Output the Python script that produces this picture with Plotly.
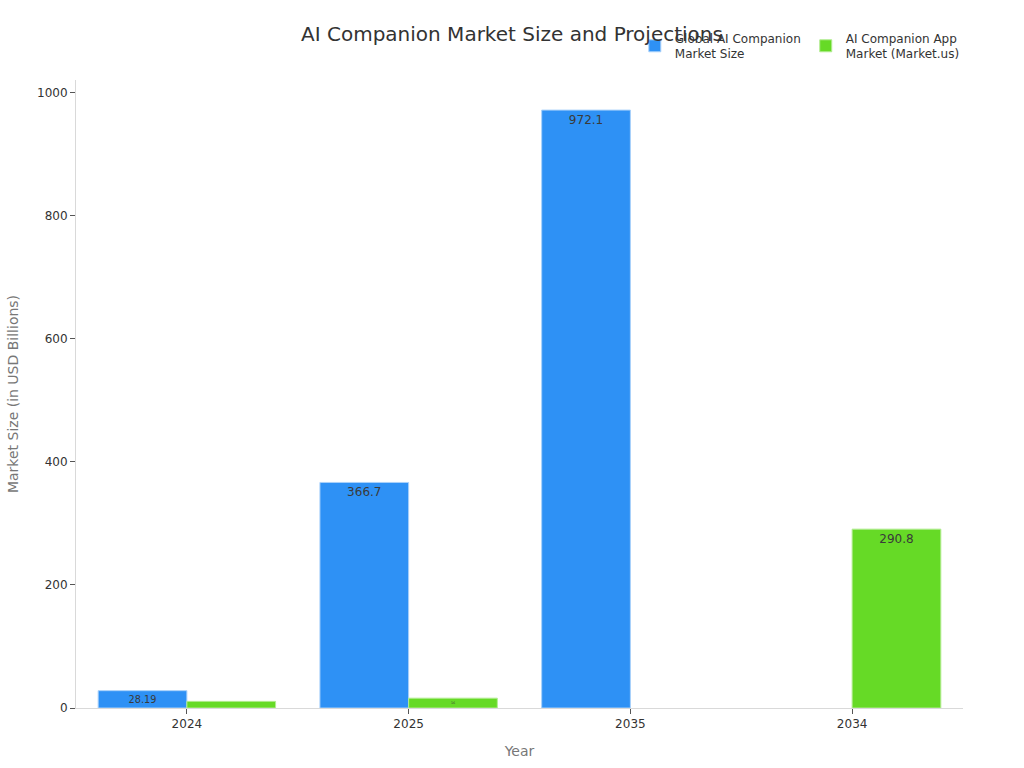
import plotly.graph_objects as go

years = ["2024", "2025", "2035", "2034"]
global_size = [28.19, 366.7, 972.1, None]
app_market = [10.8, 16.0, None, 290.8]
global_labels = ["28.19", "366.7", "972.1", ""]
app_labels = ["10.8", "16", "", "290.8"]

fig = go.Figure()
fig.add_trace(go.Bar(
    x=years, y=global_size, name="Global AI Companion<br>Market Size",
    marker=dict(color="#2E91F5", line=dict(color="#A9D1FA", width=1)),
    text=global_labels, textposition="inside", insidetextanchor="end",
    textfont=dict(color="#3a3a3a", size=12),
))
fig.add_trace(go.Bar(
    x=years, y=app_market, name="AI Companion App<br>Market (Market.us)",
    marker=dict(color="#66DA26", line=dict(color="#B3EC93", width=1)),
    text=app_labels, textposition="inside", insidetextanchor="end",
    textfont=dict(color="#3a3a3a", size=12),
))

fig.update_layout(
    width=1024, height=768,
    template="plotly_white",
    font=dict(family="DejaVu Sans", color="#333333", size=12),
    title=dict(text="AI Companion Market Size and Projections", x=0.5, xanchor="center",
               y=0.956, yanchor="middle", font=dict(size=20, color="#333333")),
    margin=dict(l=76, r=61, t=80, b=60),
    barmode="group", bargap=0.2, bargroupgap=0,
    plot_bgcolor="white", paper_bgcolor="white",
    legend=dict(orientation="h", x=0.63, xanchor="left", y=1.018, yanchor="bottom",
                font=dict(size=12, color="#333333"), bgcolor="rgba(0,0,0,0)"),
    xaxis=dict(title=dict(text="Year", font=dict(size=14, color="#777777")),
               type="category", showgrid=False, showline=True, linecolor="#d9d9d9",
               ticks="outside", tickcolor="#555555", ticklen=5),
    yaxis=dict(title=dict(text="Market Size (in USD Billions)", font=dict(size=14, color="#777777")),
               range=[0, 1021], showgrid=False, showline=True, linecolor="#d9d9d9",
               ticks="outside", tickcolor="#555555", ticklen=5, zeroline=False,
               tickvals=[0, 200, 400, 600, 800, 1000]),
)

fig.write_html("out.html")
